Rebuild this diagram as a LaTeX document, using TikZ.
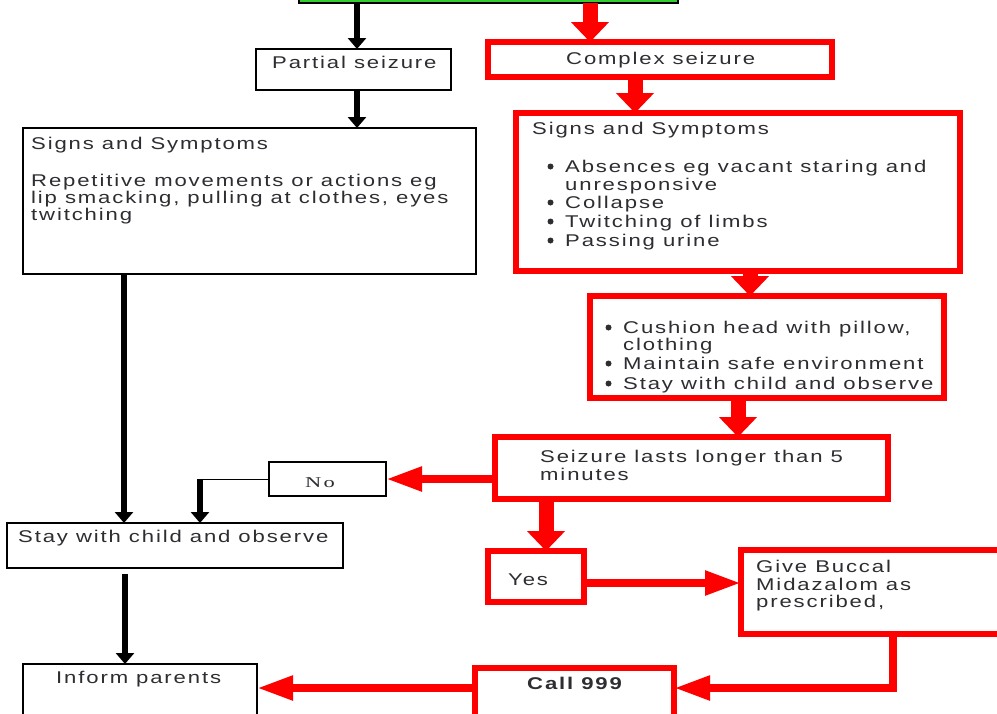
\documentclass[tikz,border=0pt]{standalone}
\usepackage{fontspec}
\setmainfont{Liberation Sans}[FakeStretch=1.3,LetterSpace=11]
\newfontfamily\nofont{Liberation Serif}[FakeStretch=1.5,LetterSpace=15]
\usetikzlibrary{arrows.meta}
\definecolor{txtgrey}{RGB}{45,45,50}
\definecolor{boxgreen}{RGB}{51,204,51}
\newcommand\bodyfont{\fontsize{17}{19}\selectfont}
\tikzset{
  blkbox/.style={draw=black, line width=1.5pt, fill=white, anchor=north west, inner sep=0pt, outer sep=0pt},
  redbox/.style={draw=red, line width=6.5pt, fill=white, anchor=north west, inner sep=0pt, outer sep=0pt},
  txt/.style={anchor=base west, inner sep=0pt, text=txtgrey, font=\bodyfont},
  blkarrow/.style={-{Triangle[width=18pt,length=11pt]}, draw=black, line width=5.5pt},
  redarrow/.style={-{Triangle[width=37pt,length=20pt]}, draw=red, line width=15pt},
  redharrow/.style={-{Triangle[width=23pt,length=36pt]}, draw=red, line width=8pt},
}

\begin{document}
\begin{tikzpicture}[x=1pt,y=-1pt]

  \useasboundingbox (0,0) rectangle (997,713);

  % boxes
  \node[blkbox, fill=boxgreen, minimum width=379, minimum height=43] (start) at (299,-40) {};
  \node[blkbox, minimum width=195, minimum height=41] (partial) at (256,49) {};
  \node[redbox, minimum width=344, minimum height=35] (complex) at (488,42) {};
  \node[blkbox, minimum width=453, minimum height=146] (psigns) at (23,128) {};
  \node[redbox, minimum width=444, minimum height=158] (csigns) at (516,113) {};
  \node[redbox, minimum width=354, minimum height=102] (cushion) at (590,296) {};
  \node[redbox, minimum width=393, minimum height=62] (lasts) at (495,437) {};
  \node[blkbox, line width=1.2pt, minimum width=117, minimum height=34] (no) at (269,462) {};
  \node[blkbox, minimum width=336, minimum height=45] (stay) at (7,523) {};
  \node[redbox, minimum width=96, minimum height=51] (yes) at (488,551) {};
  \node[redbox, minimum width=280, minimum height=84] (buccal) at (741,550) {};
  \node[blkbox, minimum width=234, minimum height=80] (inform) at (23,664) {};
  \node[redbox, minimum width=199, minimum height=80] (call) at (475,668) {};

  % texts
  \node[txt] (tpartial) at (272,68) {Partial seizure};
  \node[txt] (tcomplex) at (566,64) {Complex seizure};

  \node[txt] (tps1) at (31,149) {Signs and Symptoms};
  \node[txt] (tps2) at (31,186) {Repetitive movements or actions eg};
  \node[txt] (tps3) at (31,203) {lip smacking, pulling at clothes, eyes};
  \node[txt] (tps4) at (31,220) {twitching};

  \node[txt] (tcs1) at (532,134) {Signs and Symptoms};
  \node[txt] (tcs2) at (565,172) {Absences eg vacant staring and};
  \node[txt] (tcs3) at (565,190) {unresponsive};
  \node[txt] (tcs4) at (565,208) {Collapse};
  \node[txt] (tcs5) at (565,227) {Twitching of limbs};
  \node[txt] (tcs6) at (565,246) {Passing urine};

  \node[txt] (tcu1) at (623,333) {Cushion head with pillow,};
  \node[txt] (tcu2) at (623,350) {clothing};
  \node[txt] (tcu3) at (623,369) {Maintain safe environment};
  \node[txt] (tcu4) at (623,389) {Stay with child and observe};

  % bullets
  \foreach \b in {tcs2,tcs4,tcs5,tcs6,tcu1,tcu3,tcu4}
    \fill[txtgrey] ([xshift=-14.5pt,yshift=5.5pt]\b.base west) circle (3pt);

  \node[txt] (tla1) at (540,462) {Seizure lasts longer than 5};
  \node[txt] (tla2) at (540,480) {minutes};

  \node[txt, font=\nofont\fontsize{15}{17}\selectfont] (tno) at (305,487) {No};
  \node[txt] (tstay) at (18,542) {Stay with child and observe};
  \node[txt] (tinform) at (56,683) {Inform parents};
  \node[txt] (tyes) at (508,585) {Yes};

  \node[txt] (tbu1) at (756,572) {Give Buccal};
  \node[txt] (tbu2) at (756,590) {Midazalom as};
  \node[txt] (tbu3) at (756,607) {prescribed,};

  \node[txt, font=\bodyfont\bfseries] (tcall) at (527,689) {Call 999};

  % left (partial) branch
  \draw[blkarrow] ([xshift=58pt]start.south west) -- ([xshift=101pt]partial.north west);
  \draw[blkarrow] ([xshift=101pt]partial.south west) -- ([xshift=334pt]psigns.north west);
  \draw[blkarrow] ([xshift=101pt]psigns.south west) -- ([xshift=117pt]stay.north west);
  \draw[blkarrow] ([xshift=118pt,yshift=-6pt]stay.south west) -- ([xshift=102pt]inform.north west);

  % right (complex) branch
  \draw[redarrow] ([xshift=291pt]start.south west) -- ([xshift=102pt]complex.north west);
  \draw[redarrow] ([xshift=147pt]complex.south west) -- ([xshift=119pt]csigns.north west);
  \draw[redarrow] ([xshift=234pt]csigns.south west) -- ([xshift=160pt]cushion.north west);
  \draw[redarrow] ([xshift=148pt]cushion.south west) -- ([xshift=243pt]lasts.north west);
  \draw[redarrow] ([xshift=51pt]lasts.south west) -- ([xshift=58pt]yes.north west);

  \draw[redharrow] ([yshift=-11pt]lasts.west) -- (no.east);
  \coordinate (nobend) at ([xshift=-69pt]no.west);
  \draw[line width=1pt] (no.west) -- (nobend);
  \draw[blkarrow] ([yshift=0.5pt]nobend) -- (nobend |- stay.north);

  \coordinate (yb) at ([yshift=-6.5pt]yes.east);
  \draw[redharrow] (yb) -- (yb -| buccal.west);

  \coordinate (cb) at ([yshift=-20pt]call.north east);
  \draw[redharrow] ([xshift=152pt]buccal.south west) |- (cb);
  \coordinate (ci) at ([yshift=-20pt]call.north west);
  \draw[redharrow] (ci) -- (ci -| inform.east);

\end{tikzpicture}
\end{document}
